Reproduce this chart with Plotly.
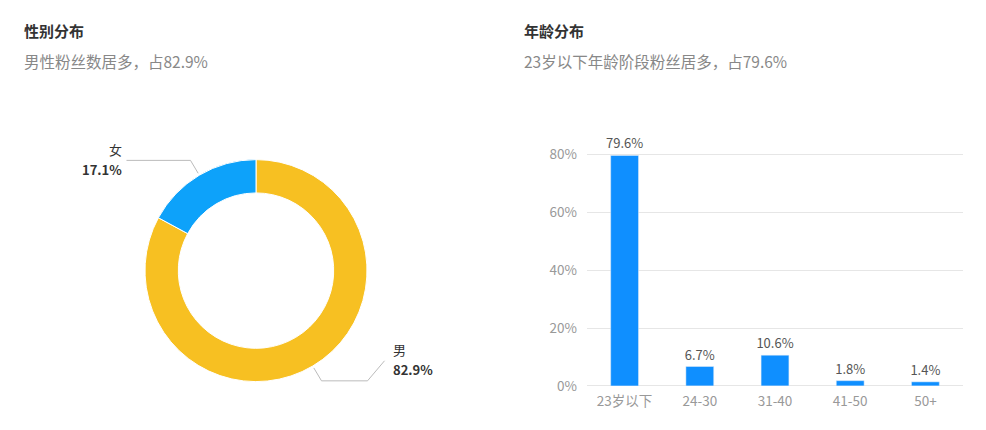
import math

import plotly.graph_objects as go

# --- data ---
gender_labels = ["男", "女"]
gender_values = [82.9, 17.1]
gender_colors = ["#F7C022", "#0DA2FA"]

age_labels = ["23岁以下", "24-30", "31-40", "41-50", "50+"]
age_values = [79.6, 6.7, 10.6, 1.8, 1.4]
age_ticks = [0, 20, 40, 60, 80]

W, H = 986, 430
FONT = "Noto Sans CJK SC"

# the page shows the figure frame offset/shrunk a little; these map
# screen pixels onto paper fractions of that frame
FX, FY, FW, FH = 8, 18, 986, 410


def px(x):
    return (x - FX) / FW


def py(y):
    return 1 - (y - FY) / FH


fig = go.Figure()

# --- donut (left) ---
cx, cy, R = 256, 270, 111
fig.add_trace(go.Pie(
    labels=gender_labels,
    values=gender_values,
    hole=0.70,
    sort=False,
    direction="clockwise",
    rotation=0,
    marker=dict(colors=gender_colors, line=dict(color="white", width=1)),
    textinfo="none",
    domain=dict(x=[px(cx - R), px(cx + R)], y=[py(cy + R), py(cy - R)]),
    hovertemplate="%{label}: %{value}%<extra></extra>",
))

# leader lines + labels computed from slice mid-angles
total = sum(gender_values)
cum = 0
for lab, val in zip(gender_labels, gender_values):
    mid = (cum + val / 2) / total * 2 * math.pi
    cum += val
    ux, uy = math.sin(mid), -math.cos(mid)
    x0, y0 = cx + (R + 2) * ux, cy + (R + 2) * uy
    x1, y1 = cx + (R + 17) * ux, cy + (R + 17) * uy
    if ux >= 0:
        x2, y2 = x1 + 46, y1
        x3, y3 = x2 + 17, y1 - 20
        pts = [(x0, y0), (x1, y1), (x2, y2), (x3, y3)]
        tx, anchor, ty = x3 + 4, "left", y3
    else:
        x2, y2 = x1 - 64, y1
        pts = [(x0, y0), (x1, y1), (x2, y2)]
        tx, anchor, ty = x2 - 4, "right", y2
    path = "M " + " L ".join(f"{px(a)},{py(b)}" for a, b in pts)
    fig.add_shape(type="path", path=path, xref="paper", yref="paper",
                  line=dict(color="#BBBBBB", width=1))
    fig.add_annotation(x=px(tx + 2), y=py(ty - 11), xref="paper", yref="paper",
                       text=lab, showarrow=False, xanchor=anchor, yanchor="middle",
                       font=dict(family=FONT, size=13, color="#333333"))
    fig.add_annotation(x=px(tx + 2), y=py(ty + 9), xref="paper", yref="paper",
                       text=f"<b>{val}%</b>", showarrow=False, xanchor=anchor,
                       yanchor="middle",
                       font=dict(family=FONT, size=13, color="#333333"))

# --- bar chart (right) ---
fig.add_trace(go.Bar(
    x=age_labels,
    y=age_values,
    xaxis="x2",
    yaxis="y2",
    marker=dict(color="#0F8FFF"),
    text=[f"{v}%" for v in age_values],
    textposition="outside",
    constraintext="none",
    cliponaxis=False,
    textfont=dict(family=FONT, size=13, color="#555555"),
    hovertemplate="%{x}: %{y}%<extra></extra>",
))

# --- titles ---
for x, title, sub in [
    (22, "性别分布", "男性粉丝数居多，占82.9%"),
    (522, "年龄分布", "23岁以下年龄阶段粉丝居多，占79.6%"),
]:
    fig.add_annotation(x=px(x), y=py(30), xref="paper", yref="paper",
                       text=f"<b>{title}</b>", showarrow=False,
                       xanchor="left", yanchor="middle",
                       font=dict(family=FONT, size=15, color="#333333"))
    fig.add_annotation(x=px(x), y=py(61), xref="paper", yref="paper",
                       text=sub, showarrow=False,
                       xanchor="left", yanchor="middle",
                       font=dict(family=FONT, size=15.5, color="#888888"))

# y range goes a hair past 80 so the top gridline is drawn
y_top = 80.4
fig.update_layout(
    width=W,
    height=H,
    margin=dict(l=0, r=0, t=0, b=0),
    paper_bgcolor="white",
    plot_bgcolor="white",
    showlegend=False,
    bargap=0.63,
    font=dict(family=FONT),
    xaxis2=dict(
        domain=[px(587), px(963)],
        anchor="y2",
        showgrid=False,
        showline=False,
        ticks="",
        ticklabelstandoff=6,
        tickfont=dict(family=FONT, size=13.5, color="#999999"),
    ),
    yaxis2=dict(
        domain=[py(385), py(385 - y_top * 231 / 80)],
        anchor="x2",
        range=[0, y_top],
        autorange=False,
        tickvals=age_ticks,
        ticktext=[f"{t}%" for t in age_ticks],
        showgrid=True,
        gridcolor="#E6E6E6",
        zeroline=True,
        zerolinecolor="#E6E6E6",
        zerolinewidth=1,
        ticks="",
        ticklabelstandoff=9,
        tickfont=dict(family=FONT, size=13.5, color="#999999"),
    ),
)

fig.write_html("out.html")
